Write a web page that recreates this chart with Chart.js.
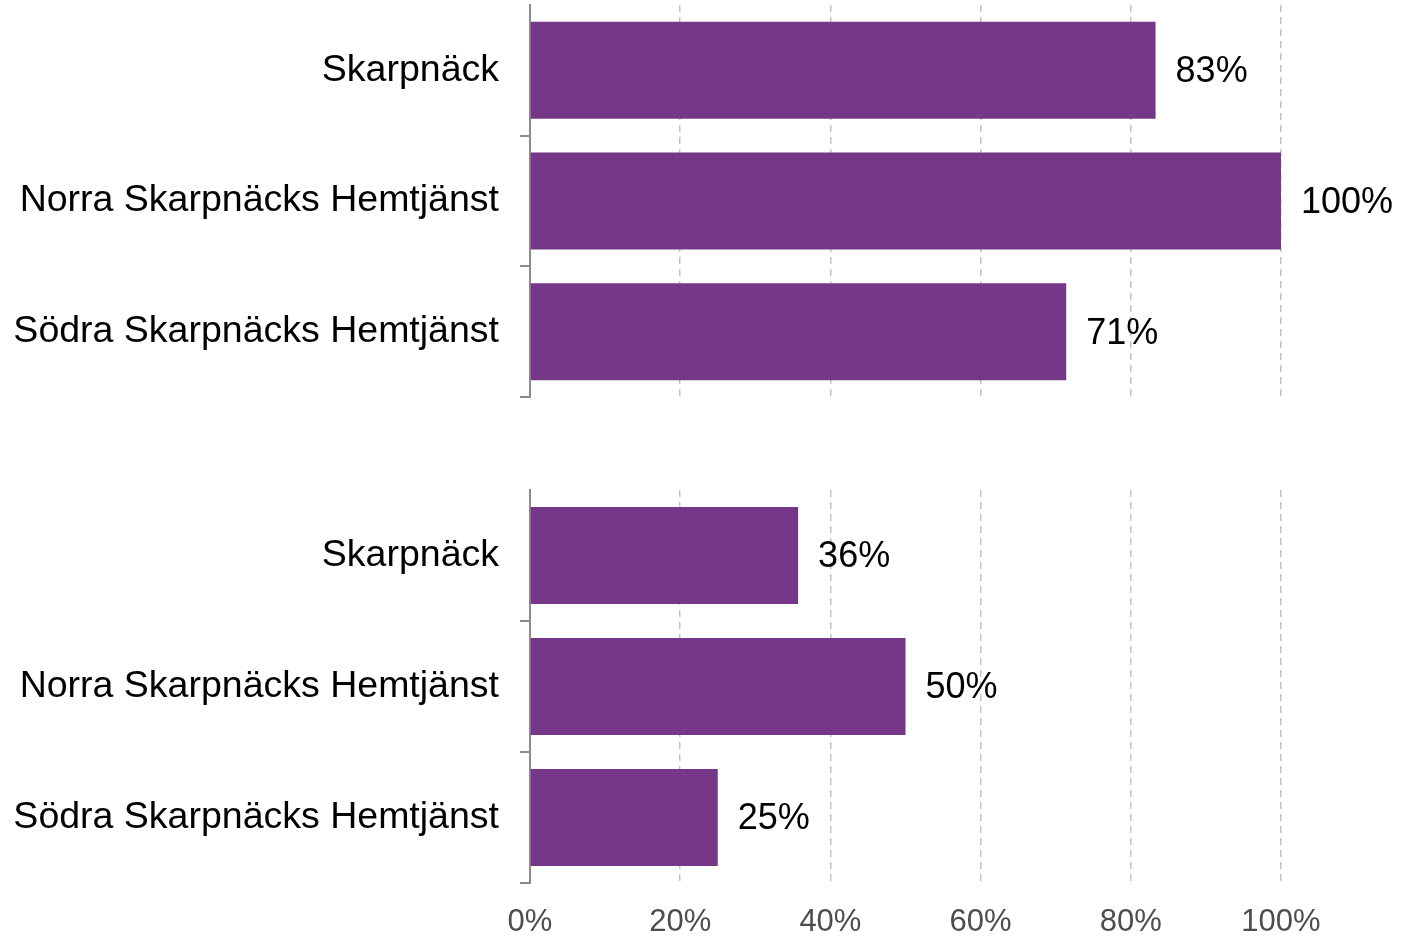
<!DOCTYPE html>
<html>
<head>
<meta charset="utf-8">
<script src="https://cdn.jsdelivr.net/npm/chart.js@4/dist/chart.umd.min.js"></script>
<style>
  html, body { margin: 0; padding: 0; background: #ffffff; }
  #wrap { position: relative; width: 1417px; height: 937px; overflow: hidden; }
  .panel { position: absolute; left: 0; width: 1417px; }
  #topBox { top: 0; height: 420px; }
  #botBox { top: 480px; height: 457px; }
</style>
</head>
<body>
<div id="wrap">
  <div class="panel" id="topBox"><canvas id="topChart" width="1417" height="420"></canvas></div>
  <div class="panel" id="botBox"><canvas id="botChart" width="1417" height="457"></canvas></div>
</div>
<script>
const categories = ['Skarpnäck', 'Norra Skarpnäcks Hemtjänst', 'Södra Skarpnäcks Hemtjänst'];
const valuesTop = [83.3, 100, 71.4];
const valuesBottom = [35.7, 50, 25];
const tickValues = [0, 20, 40, 60, 80, 100];
const tickLabels = ['0%', '20%', '40%', '60%', '80%', '100%'];

const barColor = '#773789';
const FONT = "'Liberation Sans', Arial, sans-serif";

const valueLabelPlugin = {
  id: 'valueLabels',
  afterDatasetsDraw(chart) {
    const ctx = chart.ctx;
    const ds = chart.data.datasets[0];
    const meta = chart.getDatasetMeta(0);
    ctx.save();
    ctx.font = '36px ' + FONT;
    ctx.fillStyle = '#000000';
    ctx.textAlign = 'left';
    ctx.textBaseline = 'middle';
    meta.data.forEach((bar, i) => {
      ctx.fillText(Math.round(ds.data[i]) + '%', bar.x + 20, bar.y + 2);
    });
    ctx.restore();
  }
};

function makeChart(canvasId, values, showXTicks, padTop, xHeight, lastTickColor) {
  return new Chart(document.getElementById(canvasId), {
    type: 'bar',
    data: {
      labels: categories,
      datasets: [{
        data: values,
        backgroundColor: barColor,
        borderWidth: 0,
        categoryPercentage: 1.0,
        barPercentage: 0.742
      }]
    },
    options: {
      indexAxis: 'y',
      responsive: false,
      animation: false,
      events: [],
      layout: { padding: { top: padTop, right: 136, left: 0, bottom: 0 } },
      plugins: { legend: { display: false }, tooltip: { enabled: false } },
      scales: {
        x: {
          min: 0,
          max: 100,
          afterBuildTicks(scale) {
            scale.ticks = tickValues.map(v => ({ value: v }));
          },
          afterFit(scale) {
            scale.height = xHeight;
            scale.paddingLeft = 0;
            scale.paddingRight = 0;
          },
          grid: {
            display: true,
            drawTicks: false,
            lineWidth: 1.5,
            color: (c) => c.index === 0 ? 'rgba(0,0,0,0)' : '#c3c3c3'
          },
          border: { display: false, dash: [7, 5] },
          ticks: {
            display: showXTicks,
            padding: 21,
            color: '#4d4d4d',
            font: { family: FONT, size: 31 },
            callback: (v) => tickLabels[tickValues.indexOf(v)]
          }
        },
        y: {
          afterFit(scale) {
            scale.width = 530;
            scale.paddingTop = 0;
            scale.paddingBottom = 0;
          },
          grid: {
            display: true,
            drawOnChartArea: false,
            drawTicks: true,
            tickLength: 10,
            lineWidth: 2,
            offset: true,
            color: (c) => c.index === 0 ? 'rgba(0,0,0,0)' : (c.index === 3 ? lastTickColor : '#8c8c8c')
          },
          border: { display: true, color: '#8c8c8c', width: 2 },
          ticks: {
            padding: 21,
            color: '#000000',
            font: { family: FONT, size: 37.5 }
          }
        }
      }
    },
    plugins: [valueLabelPlugin]
  });
}

makeChart('topChart', valuesTop, false, 5, 23, '#e6e6e6');
makeChart('botChart', valuesBottom, true, 10, 54, '#8c8c8c');
</script>
</body>
</html>
